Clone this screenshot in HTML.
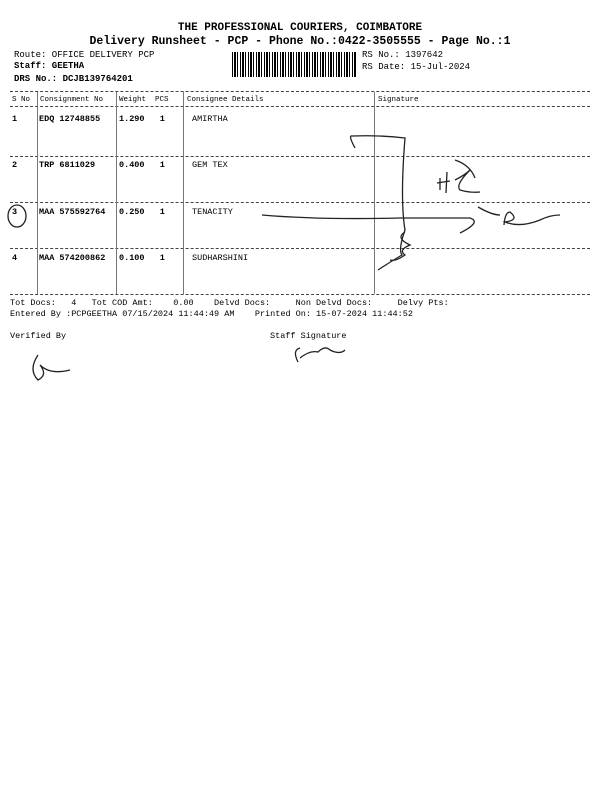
<html><head><style>
body{margin:0;width:600px;height:800px;background:#fff;position:relative;font-family:"Liberation Mono",monospace;color:#000;overflow:hidden}
.t{position:absolute;white-space:pre;font-size:8.5px}
.b{font-weight:bold}
.h{position:absolute;left:10px;width:580px;border-top:1px dashed #444}
.v{position:absolute;width:0;border-left:1px solid #777}
</style></head><body>
<div class="t b" style="left:0;width:600px;text-align:center;top:22px;font-size:11px">THE PROFESSIONAL COURIERS, COIMBATORE</div>
<div class="t b" style="left:0;width:600px;text-align:center;top:35px;font-size:11.5px">Delivery Runsheet - PCP - Phone No.:0422-3505555 - Page No.:1</div>
<div class="t" style="left:14px;top:50px;font-size:9px">Route: OFFICE DELIVERY PCP</div>
<div class="t b" style="left:14px;top:61px;font-size:9px">Staff: GEETHA</div>
<div class="t b" style="left:14px;top:74px;font-size:9px">DRS No.: DCJB139764201</div>
<div class="t" style="left:362px;top:50px;font-size:9px">RS No.: 1397642</div>
<div class="t" style="left:362px;top:62px;font-size:9px">RS Date: 15-Jul-2024</div>
<div style="position:absolute;left:232px;top:52px;width:125px;height:25px;background:repeating-linear-gradient(90deg,#000 0 1px,#fff 1px 2px,#000 2px 4px,#fff 4px 5px,#000 5px 6px,#fff 6px 8px)"></div>
<div class="h" style="top:91px"></div>
<div class="h" style="top:106px"></div>
<div class="h" style="top:156px"></div>
<div class="h" style="top:202px"></div>
<div class="h" style="top:248px"></div>
<div class="h" style="top:294px"></div>
<div class="v" style="left:37px;top:92px;height:202px"></div>
<div class="v" style="left:116px;top:92px;height:202px"></div>
<div class="v" style="left:183px;top:92px;height:202px"></div>
<div class="v" style="left:374px;top:92px;height:202px"></div>
<div class="t" style="left:12px;top:96px;font-size:7.5px">S No</div>
<div class="t" style="left:40px;top:96px;font-size:7.5px">Consignment No</div>
<div class="t" style="left:119px;top:96px;font-size:7.5px">Weight  PCS</div>
<div class="t" style="left:187px;top:96px;font-size:7.5px">Consignee Details</div>
<div class="t" style="left:378px;top:96px;font-size:7.5px">Signature</div>
<div class="t b" style="left:12px;top:114px">1</div><div class="t b" style="left:39px;top:114px">EDQ 12748855</div><div class="t b" style="left:119px;top:114px">1.290   1</div><div class="t" style="left:192px;top:114px">AMIRTHA</div>
<div class="t b" style="left:12px;top:160px">2</div><div class="t b" style="left:39px;top:160px">TRP 6811029</div><div class="t b" style="left:119px;top:160px">0.400   1</div><div class="t" style="left:192px;top:160px">GEM TEX</div>
<div class="t b" style="left:12px;top:207px">3</div><div class="t b" style="left:39px;top:207px">MAA 575592764</div><div class="t b" style="left:119px;top:207px">0.250   1</div><div class="t" style="left:192px;top:207px">TENACITY</div>
<div class="t b" style="left:12px;top:253px">4</div><div class="t b" style="left:39px;top:253px">MAA 574200862</div><div class="t b" style="left:119px;top:253px">0.100   1</div><div class="t" style="left:192px;top:253px">SUDHARSHINI</div>
<div class="t" style="left:10px;top:298px;font-size:8.5px">Tot Docs:   4   Tot COD Amt:    0.00    Delvd Docs:     Non Delvd Docs:     Delvy Pts:</div>
<div class="t" style="left:10px;top:309px;font-size:8.5px">Entered By :PCPGEETHA 07/15/2024 11:44:49 AM    Printed On: 15-07-2024 11:44:52</div>
<div class="t" style="left:10px;top:331px;font-size:8.5px">Verified By</div>
<div class="t" style="left:270px;top:331px;font-size:8.5px">Staff Signature</div>
<svg width="600" height="800" style="position:absolute;left:0;top:0" fill="none" stroke="#222" stroke-width="1.3">
<ellipse cx="17" cy="216" rx="9" ry="11"/>
<path d="M355 148 Q348 135 352 136 Q380 135 405 138 Q400 200 405 230 Q398 250 402 255 Q390 262 378 270"/>
<path d="M405 232 Q395 238 410 245 Q398 250 405 255 Q395 262 390 260"/>
<path d="M262 215 Q320 220 400 218 L470 218 Q482 222 460 233 M478 207 Q492 215 500 215"/>
<path d="M504 225 Q505 212 510 212 Q520 220 505 222 Q520 228 540 220 Q550 215 560 215"/>
<path d="M440 178 L440 190 M447 172 L446 193 M437 183 L450 181 M455 180 Q465 175 470 170 Q455 185 460 190 Q470 193 480 192"/>
<path d="M455 160 Q470 165 475 178"/>
<path d="M38 355 Q28 370 38 380 Q48 375 40 365 Q50 375 70 370"/>
<path d="M298 362 Q292 350 300 348 M300 358 Q310 350 318 352 Q325 345 330 350 Q340 355 345 350"/>
</svg>
</body></html>
